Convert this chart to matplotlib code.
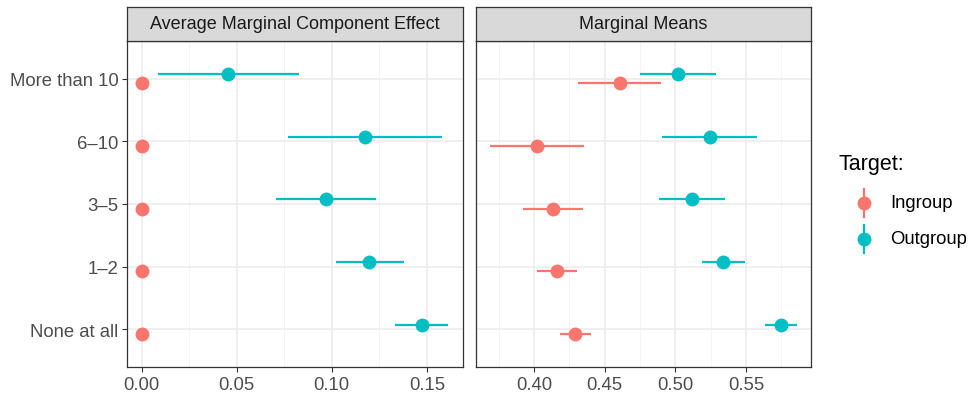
import numpy as np
import matplotlib.pyplot as plt
from matplotlib.lines import Line2D

plt.rcParams['font.family'] = ['Liberation Sans', 'DejaVu Sans']

# --- data ---
levels = ["None at all", "1\u20132", "3\u20135", "6\u201310", "More than 10"]

amce_in = [0.0, 0.0, 0.0, 0.0, 0.0]
amce_in_lo = [0.0, 0.0, 0.0, 0.0, 0.0]
amce_in_hi = [0.0, 0.0, 0.0, 0.0, 0.0]
amce_out = [0.1473, 0.1197, 0.0968, 0.1175, 0.0456]
amce_out_lo = [0.133, 0.102, 0.0705, 0.0768, 0.0087]
amce_out_hi = [0.161, 0.138, 0.1233, 0.158, 0.0828]

mm_in = [0.429, 0.416, 0.4137, 0.4023, 0.4609]
mm_in_lo = [0.4184, 0.4019, 0.3924, 0.3688, 0.4314]
mm_in_hi = [0.4401, 0.4304, 0.4345, 0.4352, 0.4899]
mm_out = [0.5749, 0.534, 0.5121, 0.5242, 0.5022]
mm_out_lo = [0.5638, 0.5192, 0.4887, 0.4909, 0.475]
mm_out_hi = [0.586, 0.5494, 0.5352, 0.5577, 0.5289]

IN_COL = "#F8766D"
OUT_COL = "#00BFC4"
DODGE = 0.075

W, H = 971, 402
fig = plt.figure(figsize=(W / 100, H / 100), dpi=100)


def px_axes(x0, y0, x1, y1):
    return fig.add_axes([x0 / W, 1 - y1 / H, (x1 - x0) / W, (y1 - y0) / H])


def panel(x0, x1, title, series, xlim, ticks, minor, ylabels):
    ax = px_axes(x0, 42, x1, 368)
    y = np.arange(1, len(levels) + 1)
    for vals, lo, hi, col, off in series:
        ax.hlines(y + off, lo, hi, color=col, lw=1.6, zorder=3)
        ax.plot(vals, y + off, 'o', color=col, ms=10, mec='none', zorder=4)
    ax.set_xlim(*xlim)
    ax.set_ylim(0.4, 5.6)
    ax.set_xticks(ticks)
    ax.set_xticklabels([f"{t:.2f}" for t in ticks])
    ax.set_xticks(minor, minor=True)
    ax.set_yticks(y)
    ax.grid(True, which='major', color='#EBEBEB', lw=1.1, zorder=0)
    ax.grid(True, which='minor', axis='x', color='#F2F2F2', lw=0.6, zorder=0)
    ax.set_axisbelow(True)
    ax.tick_params(axis='both', which='major', labelsize=13.3, colors='#333333',
                   labelcolor='#4D4D4D', length=3.5, width=0.8, pad=3)
    ax.tick_params(axis='y', pad=2.5)
    ax.tick_params(axis='x', which='minor', length=0)
    if ylabels:
        ax.set_yticklabels(levels)
    else:
        ax.set_yticklabels([])
        ax.tick_params(axis='y', length=0)
    for s in ax.spines.values():
        s.set_color('#333333')
        s.set_linewidth(0.9)

    sax = px_axes(x0, 8, x1, 42)
    sax.set_xticks([])
    sax.set_yticks([])
    sax.set_facecolor('#D9D9D9')
    for s in sax.spines.values():
        s.set_color('#333333')
        s.set_linewidth(0.9)
    sax.text(0.5, 0.5, title, ha='center', va='center', fontsize=13,
             color='#1A1A1A', transform=sax.transAxes)
    return ax


panel(127, 463, "Average Marginal Component Effect",
      [(amce_in, amce_in_lo, amce_in_hi, IN_COL, -DODGE),
       (amce_out, amce_out_lo, amce_out_hi, OUT_COL, DODGE)],
      (-0.0077, 0.169), [0.0, 0.05, 0.10, 0.15], [0.025, 0.075, 0.125], True)

panel(476, 811, "Marginal Means",
      [(mm_in, mm_in_lo, mm_in_hi, IN_COL, -DODGE),
       (mm_out, mm_out_lo, mm_out_hi, OUT_COL, DODGE)],
      (0.359, 0.596), [0.40, 0.45, 0.50, 0.55], [0.375, 0.425, 0.475, 0.525, 0.575], False)

# legend
fig.text(838 / W, 1 - 165 / H, "Target:", fontsize=15.5, va='center', ha='left')
for i, (lab, col) in enumerate([("Ingroup", IN_COL), ("Outgroup", OUT_COL)]):
    yc = 1 - (204 + 36 * i) / H
    fig.add_artist(Line2D([864 / W, 864 / W], [yc - 14 / H, yc + 14 / H], color=col, lw=1.6))
    fig.add_artist(Line2D([864 / W], [yc], marker='o', ms=10, mec='none', color=col))
    fig.text(890 / W, yc, lab, fontsize=13.3, va='center', ha='left')

fig.savefig("out.png", dpi=100)
